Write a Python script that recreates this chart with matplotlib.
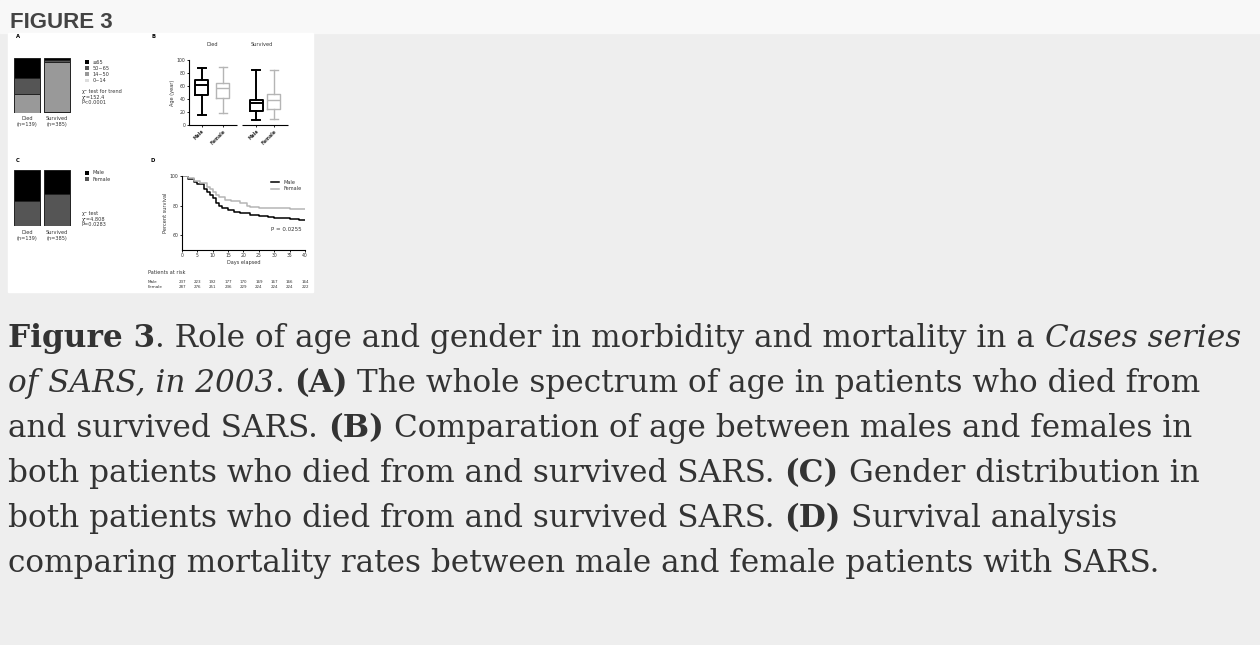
import matplotlib
matplotlib.use("Agg")
import matplotlib.pyplot as plt
from matplotlib.patches import Rectangle, Patch

# Panel A: age distribution (% of patients in each outcome group)
age_groups = ["≥65", "50~65", "14~50", "0~14"]
age_died = [36, 29, 35, 0]
age_survived = [3, 5, 90, 2]
outcome_labels = ["Died\n(n=139)", "Survived\n(n=385)"]

# Panel B: age box plots (years)
box_groups = ["Male", "Female", "Male", "Female"]
box_lo = [16, 19, 7, 10]
box_q1 = [46, 42, 21, 25]
box_med = [61, 57, 34, 38]
box_q3 = [70, 64, 39, 47]
box_hi = [88, 90, 84, 84]

# Panel C: gender distribution (%)
gender = ["Male", "Female"]
gender_died = [55, 45]
gender_survived = [42, 58]

# Panel D: survival curves
male_days = [0, 2, 4, 5, 7, 8, 9, 10, 11, 12, 13, 15, 17, 19, 22, 25, 28, 30, 35, 38, 40]
male_surv = [100, 98, 96, 94.5, 91, 89.5, 87, 85, 82, 80, 78.5, 77, 76, 75, 73.8, 73, 72, 71.5, 71, 70.5, 70.5]
female_days = [0, 2, 4, 6, 8, 9, 10, 11, 12, 14, 16, 19, 21, 22, 25, 30, 35, 40]
female_surv = [100, 98.5, 96.5, 95, 92.5, 91, 89, 87, 85.5, 84, 83, 81.5, 80, 79, 78.5, 78.3, 78, 77.5]
risk_days = [0, 5, 10, 15, 20, 25, 30, 35, 40]
risk_male = [237, 223, 192, 177, 170, 169, 167, 166, 164]
risk_female = [287, 276, 251, 236, 229, 224, 224, 224, 222]

W, H = 1260, 645
fig = plt.figure(figsize=(W / 100, H / 100), dpi=100, facecolor="#eeeeee")


def rect(x0, y0, x1, y1):
    return [x0 / W, 1 - y1 / H, (x1 - x0) / W, (y1 - y0) / H]


def ftext(x, y, s, **kw):
    return fig.text(x / W, 1 - y / H, s, **kw)


# page pieces
fig.add_artist(Rectangle((0, 1 - 33 / H), 1, 33 / H, transform=fig.transFigure,
                         color="#f8f8f8", zorder=-2))
fig.add_artist(Rectangle((8 / W, 1 - 292 / H), 305 / W, 259 / H, transform=fig.transFigure,
                         color="white", zorder=-1))
ftext(10, 28, "FIGURE 3", family="Liberation Sans", weight="bold", fontsize=16,
      color="#444444", va="baseline")

tiny = 3.6
ink = "#333333"
for lab, x, y in [("A", 18, 37), ("B", 153, 36), ("C", 18, 160), ("D", 153, 160)]:
    ftext(x, y, lab, fontsize=3.8, weight="bold", ha="center", va="center")

# ---- A
shades = ["#000000", "#555555", "#999999", "#dddddd"]
axA = fig.add_axes(rect(12, 58, 72, 113))
for i, vals in enumerate([age_died, age_survived]):
    top = 100
    for v, c in zip(vals, shades):
        axA.bar(i, v, bottom=top - v, width=0.88, color=c, edgecolor="#222222", linewidth=0.7)
        top -= v
    axA.text(i, -6, outcome_labels[i], fontsize=tiny, ha="center", va="top", color=ink)
axA.set_xlim(-0.5, 1.5)
axA.set_ylim(0, 100)
axA.axis("off")
hA = [Patch(facecolor=c, edgecolor="none") for c in shades]
axA.legend(hA, age_groups, loc="upper left", bbox_to_anchor=(80 / W, 1 - 55 / H),
           bbox_transform=fig.transFigure, frameon=False, fontsize=tiny, labelcolor=ink,
           handlelength=0.8, handleheight=0.8, labelspacing=0.25, handletextpad=0.8)
ftext(82, 97, "χ² test for trend\nχ²=152.4\nP<0.0001", fontsize=tiny, va="center",
      linespacing=1.2, color=ink)

# ---- C
axC = fig.add_axes(rect(12, 170, 72, 226))
for i, vals in enumerate([gender_died, gender_survived]):
    top = 100
    for v, c in zip(vals, ["#000000", "#555555"]):
        axC.bar(i, v, bottom=top - v, width=0.88, color=c, edgecolor="#222222", linewidth=0.7)
        top -= v
    axC.text(i, -7, outcome_labels[i], fontsize=tiny, ha="center", va="top", color=ink)
axC.set_xlim(-0.5, 1.5)
axC.set_ylim(0, 100)
axC.axis("off")
hC = [Patch(facecolor=c, edgecolor="none") for c in ["#000000", "#555555"]]
axC.legend(hC, gender, loc="upper left", bbox_to_anchor=(80 / W, 1 - 166 / H),
           bbox_transform=fig.transFigure, frameon=False, fontsize=tiny, labelcolor=ink,
           handlelength=0.8, handleheight=0.8, labelspacing=0.25, handletextpad=0.8)
ftext(82, 219, "χ² test\nχ²=4.808\nP=0.0283", fontsize=tiny, va="center",
      linespacing=1.2, color=ink)

# ---- B
axB = fig.add_axes(rect(189, 60, 290, 125))
pos = [0.64, 1.68, 3.32, 4.2]
for i in range(4):
    col = "black" if box_groups[i] == "Male" else "#b5b5b5"
    lw = 1.4 if box_groups[i] == "Male" else 1.0
    st = dict(whislo=box_lo[i], q1=box_q1[i], med=box_med[i], q3=box_q3[i],
              whishi=box_hi[i], fliers=[])
    props = dict(color=col, linewidth=lw)
    axB.bxp([st], positions=[pos[i]], widths=0.64, capwidths=0.4, showfliers=False,
            boxprops=props, whiskerprops=props, capprops=props, medianprops=props)
axB.set_xlim(0, 5)
axB.set_ylim(0, 100)
axB.set_yticks(range(0, 101, 20))
axB.tick_params(labelsize=3.3, length=1.5, width=0.6, pad=1, labelcolor=ink)
axB.set_xticks(pos)
axB.set_xticklabels(box_groups, rotation=45, ha="right", rotation_mode="anchor",
                    weight="bold")
for s in ["top", "right", "bottom"]:
    axB.spines[s].set_visible(False)
axB.spines["left"].set_linewidth(0.8)
axB.hlines(0, 0, 2.4, color="black", lw=0.8, clip_on=False)
axB.hlines(0, 2.6, 4.9, color="black", lw=0.8, clip_on=False)
axB.set_ylabel("Age (year)", fontsize=tiny, labelpad=1, color=ink)
axB.set_facecolor("none")
ftext(212, 45, "Died", fontsize=tiny, ha="center", va="center", color=ink)
ftext(262, 45, "Survived", fontsize=tiny, ha="center", va="center", color=ink)

# ---- D
axD = fig.add_axes(rect(182, 176, 305, 250))
axD.plot(male_days, male_surv, color="black", lw=1.1, drawstyle="steps-post", label="Male")
axD.plot(female_days, female_surv, color="#b5b5b5", lw=1.1, drawstyle="steps-post",
         label="Female")
axD.set_xlim(0, 40)
axD.set_ylim(50, 100)
axD.set_xticks(risk_days)
axD.set_yticks([60, 80, 100])
axD.tick_params(labelsize=3.3, length=1.5, width=0.6, pad=1, labelcolor=ink)
for s in ["top", "right"]:
    axD.spines[s].set_visible(False)
for s in ["left", "bottom"]:
    axD.spines[s].set_linewidth(0.8)
axD.set_xlabel("Days elapsed", fontsize=tiny, labelpad=1, color=ink)
axD.set_ylabel("Percent survival", fontsize=tiny, labelpad=1, color=ink)
axD.legend(loc="upper right", fontsize=tiny, frameon=False, handlelength=1.6,
           borderpad=0.2, labelspacing=0.4, labelcolor=ink)
axD.text(0.97, 0.28, "P = 0.0255", transform=axD.transAxes, fontsize=4, ha="right",
         va="center", color=ink)
axD.set_facecolor("none")
tr = axD.get_xaxis_transform()
ftext(148, 273, "Patients at risk", fontsize=tiny, va="center", color=ink)
ftext(148, 282, "Male", fontsize=3, va="center", color=ink)
ftext(148, 287.5, "Female", fontsize=3, va="center", color=ink)
for d, m, f in zip(risk_days, risk_male, risk_female):
    axD.text(d, (250 - 282) / 74, str(m), transform=tr, fontsize=2.9, ha="center",
             va="center", clip_on=False, color=ink)
    axD.text(d, (250 - 287.5) / 74, str(f), transform=tr, fontsize=2.9, ha="center",
             va="center", clip_on=False, color=ink)

# ---- caption
cap_font = "DejaVu Serif"
cap_color = "#333333"
B, I, N = ("bold", "normal"), ("normal", "italic"), ("normal", "normal")
lines = [
    [("Figure 3", B), (". Role of age and gender in morbidity and mortality in a ", N),
     ("Cases series", I)],
    [("of SARS, in 2003", I), (". ", N), ("(A)", B),
     (" The whole spectrum of age in patients who died from", N)],
    [("and survived SARS. ", N), ("(B)", B),
     (" Comparation of age between males and females in", N)],
    [("both patients who died from and survived SARS. ", N), ("(C)", B),
     (" Gender distribution in", N)],
    [("both patients who died from and survived SARS. ", N), ("(D)", B),
     (" Survival analysis", N)],
    [("comparing mortality rates between male and female patients with SARS.", N)],
]
renderer = fig.canvas.get_renderer()


def text_w(s, size, weight="normal", style="normal"):
    t = fig.text(0, 0, s, fontsize=size, family=cap_font, weight=weight, style=style)
    w = t.get_window_extent(renderer).width
    t.remove()
    return w


size = 20 * 1152 / text_w(lines[5][0][0], 20)
space = text_w("x x", size) - text_w("xx", size)
for k, line in enumerate(lines):
    x = 8
    y = 347 + 45 * k
    for s, (wt, stl) in line:
        core = s.strip(" ")
        x += (len(s) - len(s.lstrip(" "))) * space
        ftext(x, y, core, fontsize=size, family=cap_font, weight=wt, style=stl,
              color=cap_color, va="baseline")
        x += text_w(core, size, wt, stl)
        x += (len(s) - len(s.rstrip(" "))) * space

fig.savefig("out.png", dpi=100, facecolor=fig.get_facecolor())
